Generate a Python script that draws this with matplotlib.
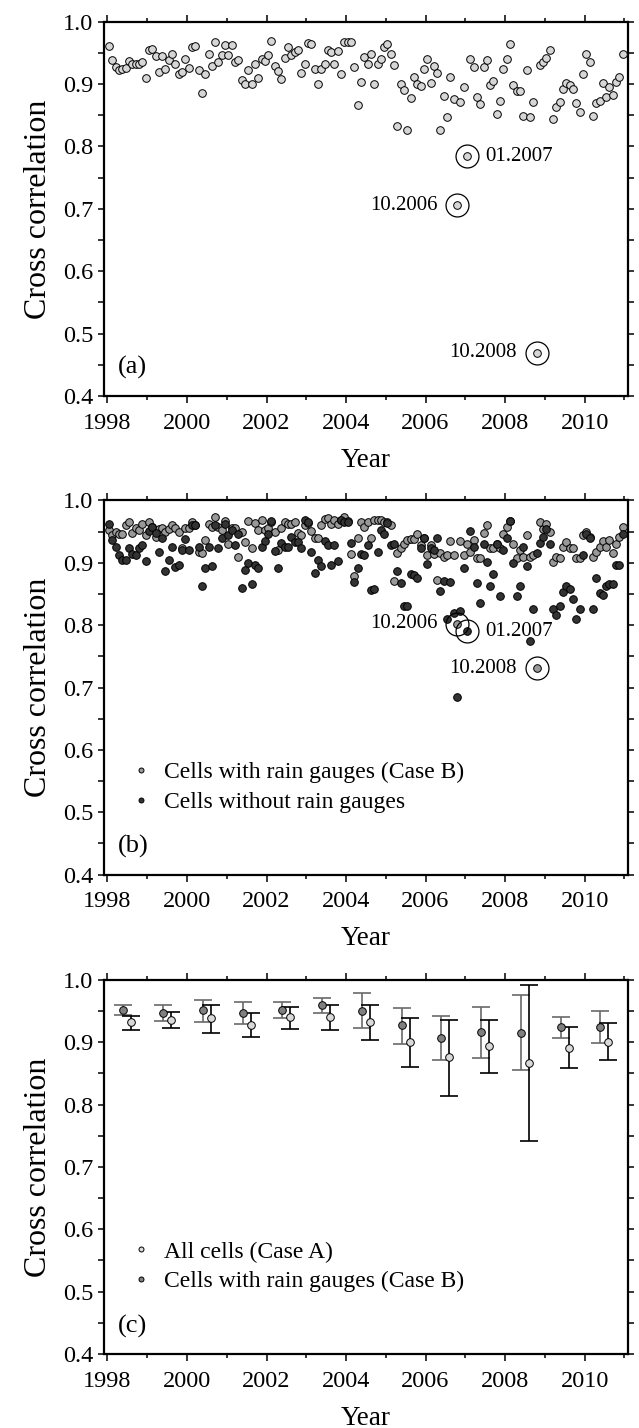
import numpy as np
import matplotlib
matplotlib.use("Agg")
import matplotlib.pyplot as plt

plt.rcParams["font.family"] = ["Liberation Serif", "DejaVu Serif"]

# ----------------------------
# Data (monthly, Jan 1998 - Dec 2010)
# ----------------------------
start_year = 1998
n_months = 156

# (a) all cells
corr_a = [
    0.961, 0.939, 0.928, 0.923, 0.924, 0.925, 0.937, 0.933, 0.933, 0.933, 0.936, 0.909,
    0.955, 0.956, 0.945, 0.919, 0.945, 0.924, 0.939, 0.948, 0.932, 0.916, 0.920, 0.941,
    0.925, 0.960, 0.961, 0.922, 0.885, 0.916, 0.949, 0.929, 0.967, 0.936, 0.946, 0.963,
    0.946, 0.962, 0.935, 0.939, 0.907, 0.900, 0.923, 0.900, 0.933, 0.909, 0.941, 0.937,
    0.947, 0.969, 0.929, 0.921, 0.908, 0.942, 0.960, 0.947, 0.952, 0.954, 0.917, 0.932,
    0.966, 0.964, 0.924, 0.900, 0.924, 0.932, 0.954, 0.951, 0.932, 0.953, 0.916, 0.967,
    0.967, 0.967, 0.928, 0.867, 0.904, 0.944, 0.932, 0.949, 0.900, 0.933, 0.940, 0.959,
    0.964, 0.949, 0.930, 0.833, 0.900, 0.890, 0.827, 0.877, 0.911, 0.900, 0.897, 0.924,
    0.940, 0.901, 0.929, 0.917, 0.826, 0.881, 0.848, 0.911, 0.876, 0.706, 0.872, 0.895,
    0.784, 0.940, 0.927, 0.880, 0.868, 0.927, 0.938, 0.899, 0.905, 0.852, 0.873, 0.924,
    0.940, 0.965, 0.899, 0.889, 0.889, 0.849, 0.923, 0.847, 0.871, 0.469, 0.931, 0.935,
    0.942, 0.955, 0.844, 0.864, 0.871, 0.892, 0.902, 0.899, 0.892, 0.869, 0.855, 0.916,
    0.948, 0.936, 0.849, 0.869, 0.873, 0.901, 0.880, 0.895, 0.883, 0.904, 0.911, 0.948,
]

# (b) cells with rain gauges
corr_b_gauge = [
    0.953, 0.944, 0.950, 0.946, 0.946, 0.960, 0.965, 0.948, 0.955, 0.953, 0.962, 0.944,
    0.966, 0.957, 0.941, 0.954, 0.956, 0.949, 0.954, 0.960, 0.955, 0.950, 0.923, 0.956,
    0.955, 0.965, 0.960, 0.917, 0.915, 0.936, 0.962, 0.958, 0.973, 0.958, 0.953, 0.967,
    0.930, 0.955, 0.955, 0.910, 0.949, 0.934, 0.967, 0.923, 0.964, 0.953, 0.969, 0.953,
    0.955, 0.965, 0.949, 0.921, 0.955, 0.966, 0.962, 0.962, 0.965, 0.947, 0.944, 0.960,
    0.963, 0.951, 0.940, 0.939, 0.960, 0.970, 0.971, 0.962, 0.969, 0.962, 0.969, 0.974,
    0.967, 0.914, 0.878, 0.940, 0.966, 0.957, 0.966, 0.940, 0.969, 0.969, 0.969, 0.965,
    0.966, 0.960, 0.871, 0.915, 0.923, 0.930, 0.937, 0.938, 0.938, 0.946, 0.929, 0.940,
    0.913, 0.929, 0.914, 0.873, 0.915, 0.910, 0.913, 0.935, 0.913, 0.802, 0.935, 0.913,
    0.930, 0.918, 0.937, 0.908, 0.908, 0.948, 0.960, 0.924, 0.924, 0.930, 0.924, 0.946,
    0.957, 0.967, 0.930, 0.908, 0.920, 0.910, 0.944, 0.909, 0.912, 0.731, 0.965, 0.954,
    0.962, 0.950, 0.902, 0.910, 0.907, 0.926, 0.933, 0.924, 0.924, 0.908, 0.908, 0.944,
    0.949, 0.942, 0.910, 0.918, 0.926, 0.935, 0.926, 0.937, 0.915, 0.930, 0.942, 0.957,
]

# (b) cells without rain gauges
corr_b_nogauge = [
    0.962, 0.937, 0.926, 0.913, 0.905, 0.905, 0.923, 0.914, 0.913, 0.923, 0.928, 0.903,
    0.951, 0.958, 0.947, 0.918, 0.939, 0.887, 0.905, 0.925, 0.893, 0.897, 0.921, 0.938,
    0.921, 0.960, 0.960, 0.925, 0.863, 0.892, 0.926, 0.894, 0.961, 0.923, 0.940, 0.962,
    0.944, 0.953, 0.929, 0.946, 0.859, 0.889, 0.899, 0.866, 0.897, 0.891, 0.925, 0.935,
    0.946, 0.967, 0.919, 0.891, 0.931, 0.926, 0.925, 0.942, 0.934, 0.934, 0.923, 0.969,
    0.966, 0.918, 0.883, 0.905, 0.894, 0.935, 0.929, 0.897, 0.929, 0.903, 0.969, 0.966,
    0.965, 0.931, 0.869, 0.892, 0.914, 0.913, 0.929, 0.857, 0.858, 0.918, 0.953, 0.946,
    0.964, 0.929, 0.930, 0.886, 0.867, 0.830, 0.830, 0.882, 0.880, 0.876, 0.924, 0.940,
    0.898, 0.924, 0.921, 0.939, 0.855, 0.871, 0.810, 0.869, 0.819, 0.684, 0.823, 0.891,
    0.790, 0.951, 0.926, 0.868, 0.835, 0.930, 0.902, 0.862, 0.882, 0.930, 0.846, 0.921,
    0.940, 0.967, 0.899, 0.846, 0.862, 0.925, 0.894, 0.774, 0.826, 0.915, 0.931, 0.942,
    0.954, 0.930, 0.826, 0.816, 0.830, 0.853, 0.862, 0.858, 0.842, 0.810, 0.826, 0.912,
    0.946, 0.940, 0.826, 0.876, 0.851, 0.848, 0.862, 0.866, 0.866, 0.897, 0.897, 0.946,
]

# (c) yearly mean with ranges
years = [1998, 1999, 2000, 2001, 2002, 2003, 2004, 2005, 2006, 2007, 2008, 2009, 2010]
case_a_mean = [0.932, 0.936, 0.938, 0.927, 0.940, 0.940, 0.933, 0.900, 0.876, 0.893, 0.867, 0.891, 0.900]
case_a_low = [0.919, 0.922, 0.915, 0.908, 0.921, 0.919, 0.904, 0.860, 0.814, 0.850, 0.742, 0.858, 0.871]
case_a_high = [0.942, 0.949, 0.960, 0.946, 0.957, 0.960, 0.959, 0.939, 0.935, 0.936, 0.992, 0.924, 0.930]
case_b_mean = [0.951, 0.947, 0.951, 0.947, 0.951, 0.959, 0.950, 0.927, 0.907, 0.916, 0.915, 0.924, 0.925]
case_b_low = [0.944, 0.934, 0.933, 0.929, 0.938, 0.946, 0.922, 0.897, 0.871, 0.875, 0.855, 0.906, 0.899]
case_b_high = [0.959, 0.959, 0.968, 0.965, 0.964, 0.971, 0.978, 0.955, 0.942, 0.956, 0.975, 0.941, 0.950]

# highlighted months (label, month index)
marked_a = [("01.2007", 108), ("10.2006", 105), ("10.2008", 129)]

month_x = start_year + (np.arange(n_months) + 0.5) / 12.0

# ----------------------------
# Figure
# ----------------------------
fig = plt.figure(figsize=(6.39, 14.28), dpi=100)
ax_left, ax_w, ax_h = 0.162, 0.8213, 0.2621
ax_a = fig.add_axes([ax_left, 0.7227, ax_w, ax_h])
ax_b = fig.add_axes([ax_left, 0.3875, ax_w, ax_h])
ax_c = fig.add_axes([ax_left, 0.0518, ax_w, ax_h])


def style_axis(ax, tag):
    ax.set_xlim(1997.90, 2011.10)
    ax.set_ylim(0.4, 1.0)
    ax.set_xticks(np.arange(1998, 2011, 2))
    ax.set_xticks(np.arange(1998, 2012, 1), minor=True)
    ax.set_yticks(np.arange(0.4, 1.01, 0.1))
    ax.set_yticks(np.arange(0.45, 1.0, 0.1), minor=True)
    ax.set_yticklabels(["%.1f" % v for v in np.arange(0.4, 1.01, 0.1)])
    ax.tick_params(which="both", direction="out", top=True, right=True,
                   width=1.1, labelsize=17.5, pad=3)
    ax.tick_params(axis="x", which="major", length=5, pad=7)
    ax.tick_params(axis="x", which="minor", length=3)
    ax.tick_params(axis="y", which="both", length=4.5)
    for s in ax.spines.values():
        s.set_linewidth(1.6)
    ax.set_xlabel("Year", fontsize=19.5, labelpad=10)
    ax.set_ylabel("Cross correlation", fontsize=23, labelpad=7)
    ax.text(0.028, 0.075, tag, transform=ax.transAxes, fontsize=19,
            ha="left", va="center")


def ring(ax, x, y, label, side):
    ax.plot(x, y, "o", ms=16.5, mfc="none", mec="black", mew=0.9, zorder=4)
    if side == "right":
        ax.annotate(label, (x, y), xytext=(13, 0), textcoords="offset points",
                    ha="left", va="center", fontsize=15)
    else:
        ax.annotate(label, (x, y), xytext=(-14, 0), textcoords="offset points",
                    ha="right", va="center", fontsize=15)


# ----------------------------
# (a)
# ----------------------------
ax_a.plot(month_x, corr_a, "o", ms=5.5, mfc="#d6d6d6", mec="black", mew=0.7,
          linestyle="none", zorder=3)
for label, idx in marked_a:
    side = "right" if label == "01.2007" else "left"
    ring(ax_a, month_x[idx], corr_a[idx], label, side)
style_axis(ax_a, "(a)")

# ----------------------------
# (b)
# ----------------------------
ax_b.plot(month_x, corr_b_gauge, "o", ms=5.5, mfc="#999999", mec="black", mew=0.7,
          linestyle="none", zorder=3, label="Cells with rain gauges (Case B)")
ax_b.plot(month_x, corr_b_nogauge, "o", ms=5.5, mfc="#333333", mec="black", mew=0.7,
          linestyle="none", zorder=3, label="Cells without rain gauges")
ring(ax_b, month_x[105], corr_b_gauge[105], "10.2006", "left")
ring(ax_b, month_x[108], corr_b_nogauge[108], "01.2007", "right")
ring(ax_b, month_x[129], corr_b_gauge[129], "10.2008", "left")
ax_b.legend(loc="lower left", bbox_to_anchor=(0.035, 0.133), frameon=False,
            fontsize=17, markerscale=0.65, handlelength=0.6, handletextpad=0.7,
            labelspacing=0.35, borderpad=0.0)
style_axis(ax_b, "(b)")

# ----------------------------
# (c)
# ----------------------------
yrs = np.array(years)
a_mean = np.array(case_a_mean)
b_mean = np.array(case_b_mean)
a_err = [a_mean - np.array(case_a_low), np.array(case_a_high) - a_mean]
b_err = [b_mean - np.array(case_b_low), np.array(case_b_high) - b_mean]

ax_c.errorbar(yrs + 0.4, b_mean, yerr=b_err, fmt="none", ecolor="#6a6a6a",
              elinewidth=1.2, capsize=6.3, capthick=1.2, zorder=2)
ax_c.errorbar(yrs + 0.6, a_mean, yerr=a_err, fmt="none", ecolor="black",
              elinewidth=1.2, capsize=6.3, capthick=1.2, zorder=2)
ax_c.plot(yrs + 0.6, a_mean, "o", ms=5.5, mfc="#d9d9d9", mec="black", mew=0.7,
          linestyle="none", zorder=3, label="All cells (Case A)")
ax_c.plot(yrs + 0.4, b_mean, "o", ms=5.5, mfc="#808080", mec="black", mew=0.7,
          linestyle="none", zorder=3, label="Cells with rain gauges (Case B)")
ax_c.legend(loc="lower left", bbox_to_anchor=(0.035, 0.133), frameon=False,
            fontsize=17, markerscale=0.65, handlelength=0.6, handletextpad=0.7,
            labelspacing=0.35, borderpad=0.0)
style_axis(ax_c, "(c)")

fig.savefig("out.png", dpi=100)
